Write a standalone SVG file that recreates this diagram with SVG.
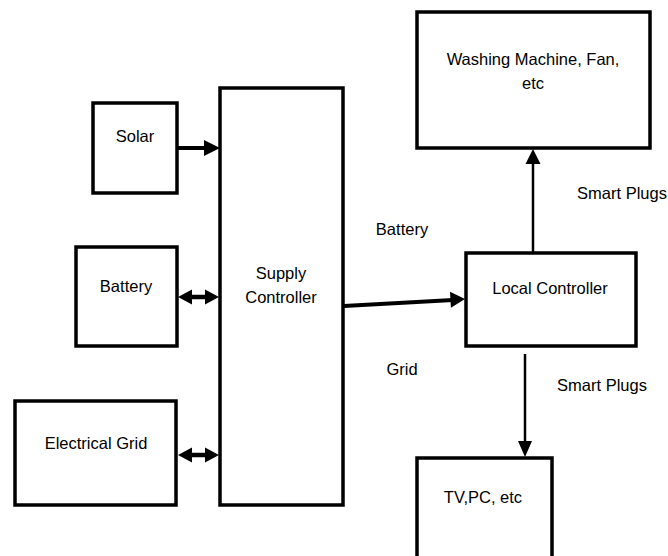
<svg xmlns="http://www.w3.org/2000/svg" width="668" height="556" viewBox="0 0 668 556">
<style>
.box{fill:#fff;stroke:#000;stroke-width:3.5}
.t{font-family:"Liberation Sans",Arial,sans-serif;font-size:16.5px;fill:#000;text-anchor:middle;dominant-baseline:central}
.l{fill:none;stroke:#000}
.h{fill:#000;stroke:none}
</style>
<rect width="668" height="556" fill="#fff"/>
<g id="connectors">
<line class="l" x1="177" y1="148" x2="206" y2="148" stroke-width="4"/>
<polygon class="h" points="204,140 220,148 204,156"/>
<line class="l" x1="188" y1="297" x2="208" y2="297" stroke-width="4.5"/>
<polygon class="h" points="178,297 192,289.5 192,304.5"/>
<polygon class="h" points="219,297 205,289.5 205,304.5"/>
<line class="l" x1="188" y1="455" x2="208" y2="455" stroke-width="4.5"/>
<polygon class="h" points="178,455 192,447.5 192,462.5"/>
<polygon class="h" points="219,455 205,447.5 205,462.5"/>
<line class="l" x1="344" y1="306" x2="453" y2="300" stroke-width="4"/>
<polygon class="h" points="465,299 450,291.8 450.9,307.8"/>
<line class="l" x1="533" y1="255" x2="533" y2="160" stroke-width="2.5"/>
<polygon class="h" points="533,149 525.5,164 540.5,164"/>
<line class="l" x1="525" y1="354" x2="525" y2="445" stroke-width="2.5"/>
<polygon class="h" points="525,457 518,441 532,441"/>
</g>
<g id="solar"><rect class="box" x="93" y="103" width="84" height="90"/><text class="t" x="135" y="136">Solar</text></g>
<g id="battery"><rect class="box" x="76" y="247" width="101" height="99"/><text class="t" x="126" y="286">Battery</text></g>
<g id="electrical-grid"><rect class="box" x="15" y="401" width="161" height="104"/><text class="t" x="96" y="443">Electrical Grid</text></g>
<g id="supply-controller"><rect class="box" x="220" y="88" width="123" height="417"/><text class="t" x="281" y="273">Supply</text><text class="t" x="281" y="297">Controller</text></g>
<g id="washing"><rect class="box" x="417" y="12" width="233" height="136"/><text class="t" x="533" y="59">Washing Machine, Fan,</text><text class="t" x="533" y="83">etc</text></g>
<g id="local-controller"><rect class="box" x="466" y="253" width="170" height="93"/><text class="t" x="550" y="288">Local Controller</text></g>
<g id="tv"><rect class="box" x="417" y="458" width="135" height="110"/><text class="t" x="483" y="497">TV,PC, etc</text></g>
<g id="labels">
<text class="t" x="402" y="229">Battery</text>
<text class="t" x="402" y="369">Grid</text>
<text class="t" x="622" y="193">Smart Plugs</text>
<text class="t" x="602" y="385">Smart Plugs</text>
</g>
</svg>
